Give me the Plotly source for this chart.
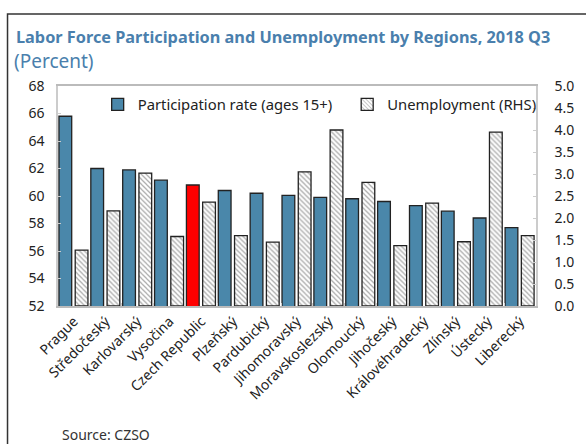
import plotly.graph_objects as go

regions = ["Prague", "Středočeský", "Karlovarský", "Vysočina", "Czech Republic",
           "Plzeňský", "Pardubický", "Jihomoravský", "Moravskoslezský", "Olomoucký",
           "Jihočeský", "Královéhradecký", "Zlínský", "Ústecký", "Liberecký"]
participation = [65.8, 62.0, 61.9, 61.15, 60.8, 60.4, 60.2, 60.05, 59.9, 59.8,
                 59.6, 59.3, 58.9, 58.4, 57.7]
unemployment = [1.27, 2.16, 3.02, 1.58, 2.36, 1.6, 1.45, 3.05, 4.0, 2.81,
                1.37, 2.34, 1.46, 3.95, 1.6]
left_ticks = list(range(52, 69, 2))
right_ticks = [i / 2 for i in range(0, 11)]

blue = "#4a87aa"
bar_colors = ["#ff0000" if r == "Czech Republic" else blue for r in regions]
font = "Noto Sans"

fig = go.Figure()
fig.add_trace(go.Bar(
    x=regions, y=participation, name="Participation rate (ages 15+)",
    marker=dict(color=bar_colors, line=dict(color="#222222", width=1.3)),
    width=0.4, offset=-0.47, legend="legend",
))
fig.add_trace(go.Bar(
    x=regions, y=unemployment, name="Unemployment (RHS)", yaxis="y2",
    marker=dict(color="white", line=dict(color="#222222", width=1.3),
                pattern=dict(shape="\\", fgcolor="#555555", bgcolor="white",
                             size=3.5, solidity=0.35)),
    width=0.4, offset=0.04, legend="legend2",
))

fig.update_layout(
    width=586, height=444,
    margin=dict(l=58, r=45, t=86, b=138),
    paper_bgcolor="white", plot_bgcolor="white",
    font=dict(family=font, size=14, color="#222222"),
    showlegend=True,
    legend=dict(x=0.083, y=0.99, xanchor="left", yanchor="top",
                bgcolor="rgba(0,0,0,0)", font=dict(size=14.8),
                itemwidth=30),
    legend2=dict(x=0.605, y=0.99, xanchor="left", yanchor="top",
                 bgcolor="rgba(0,0,0,0)", font=dict(size=14.8),
                 itemwidth=30),
    xaxis=dict(tickangle=-45, tickfont=dict(size=14), showline=True,
               linecolor="#bbbbbb", linewidth=1.5, mirror=True,
               ticks="inside", ticklen=3, tickcolor="#cccccc",
               tickson="boundaries", range=[-0.5, 14.5]),
    yaxis=dict(range=[52, 68], tickvals=left_ticks, showgrid=False,
               showline=True, linecolor="#cccccc", linewidth=1.5,
               ticks="inside", ticklen=3, tickcolor="#cccccc", zeroline=False,
               ticklabelstandoff=9),
    yaxis2=dict(range=[0, 5], tickvals=right_ticks, tickformat=".1f",
                overlaying="y", side="right", showgrid=False,
                showline=True, linecolor="#cccccc", linewidth=1.5,
                ticks="inside", ticklen=3, tickcolor="#cccccc", zeroline=False,
                ticklabelstandoff=14),
    barmode="overlay",
)

title_color = "#4a7fad"
fig.add_annotation(text="<b>Labor Force Participation and Unemployment by Regions, 2018 Q3</b>",
                   xref="paper", yref="paper", x=-0.092, y=1.223, xanchor="left",
                   yanchor="middle", showarrow=False,
                   font=dict(size=16.3, color=title_color))
fig.add_annotation(text="(Percent)", xref="paper", yref="paper", x=-0.097, y=1.115,
                   xanchor="left", yanchor="middle", showarrow=False,
                   font=dict(size=19, color=title_color))
fig.add_annotation(text="Source: CZSO", xref="paper", yref="paper", x=0.004, y=-0.585,
                   xanchor="left", yanchor="middle", showarrow=False,
                   font=dict(size=14, color="#333333"))
fig.add_shape(type="rect", xref="paper", yref="paper",
              x0=-0.1056, y0=-0.7, x1=1.12, y1=1.327,
              line=dict(color="#333333", width=1.5))

fig.write_html("out.html", config={"displayModeBar": False},
               post_script="document.body.style.margin='0';")
